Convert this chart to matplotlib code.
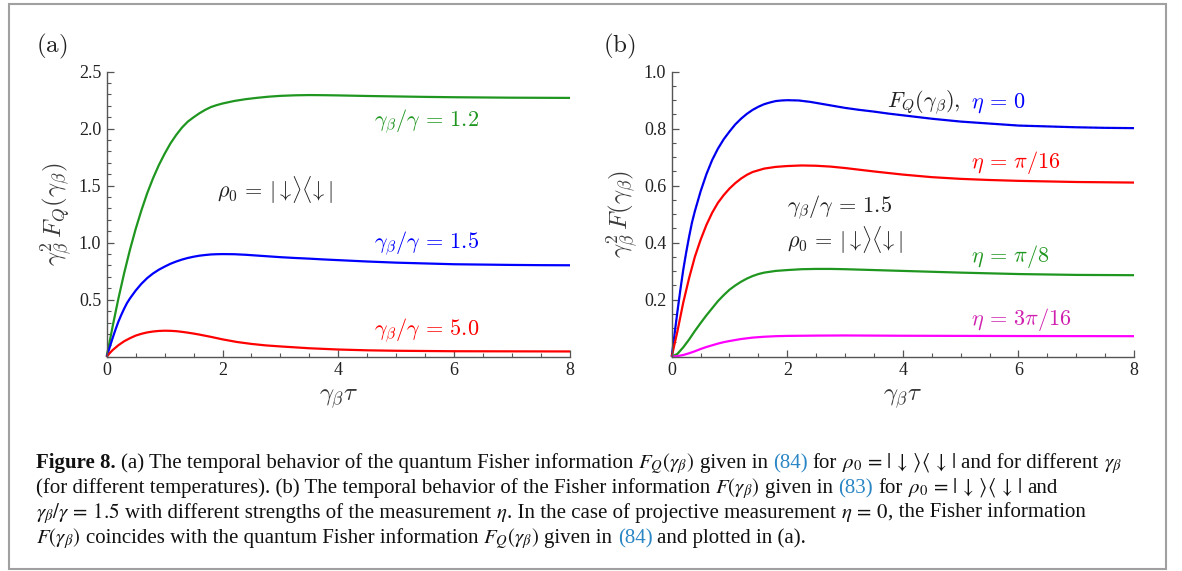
import matplotlib
matplotlib.use("Agg")
import matplotlib.pyplot as plt
from matplotlib.ticker import MultipleLocator, FixedLocator, FixedFormatter
from matplotlib.patches import Rectangle

# ---------------- data ----------------
# panel (a): gamma_beta^2 F_Q vs gamma_beta*tau
t_g12 = [0, 0.1, 0.2, 0.3, 0.4, 0.5, 0.6, 0.7, 0.8, 0.9, 1.0, 1.1, 1.2, 1.3, 1.4, 1.5,
         1.6, 1.7, 1.8, 1.9, 2.0, 2.2, 2.4, 2.6, 2.8, 3.0, 3.25, 3.5, 3.75, 4.0, 4.5,
         5.0, 5.5, 6.0, 6.5, 7.0, 7.5, 8.0]
F_g12 = [0, 0.26, 0.505, 0.73, 0.935, 1.12, 1.285, 1.435, 1.565, 1.68, 1.78, 1.87,
         1.945, 2.01, 2.062, 2.10, 2.135, 2.165, 2.19, 2.207, 2.221, 2.243, 2.259,
         2.271, 2.281, 2.288, 2.293, 2.295, 2.294, 2.292, 2.287, 2.283, 2.279, 2.276,
         2.274, 2.272, 2.271, 2.27]

t_g15 = [0, 0.025, 0.05, 0.1, 0.15, 0.2, 0.25, 0.3, 0.35, 0.4, 0.5, 0.6, 0.7, 0.8, 0.9,
         1.0, 1.1, 1.2, 1.3, 1.4, 1.5, 1.6, 1.7, 1.8, 1.9, 2.0, 2.2, 2.4, 2.6, 2.8, 3.0,
         3.25, 3.5, 3.75, 4.0, 4.5, 5.0, 5.5, 6.0, 6.5, 7.0, 7.5, 8.0]
F_g15 = [0, 0.04, 0.08, 0.16, 0.235, 0.305, 0.365, 0.42, 0.47, 0.51, 0.58, 0.64, 0.69,
         0.73, 0.763, 0.79, 0.815, 0.835, 0.852, 0.866, 0.877, 0.886, 0.892, 0.897,
         0.899, 0.90, 0.899, 0.894, 0.887, 0.88, 0.873, 0.866, 0.86, 0.853, 0.847,
         0.835, 0.825, 0.818, 0.811, 0.808, 0.805, 0.803, 0.802]

t_g50 = [0, 0.05, 0.1, 0.2, 0.3, 0.4, 0.5, 0.6, 0.7, 0.8, 0.9, 1.0, 1.1, 1.2, 1.3, 1.4,
         1.5, 1.6, 1.8, 2.0, 2.25, 2.5, 2.75, 3.0, 3.5, 4.0, 4.5, 5.0, 6.0, 7.0, 8.0]
F_g50 = [0, 0.03, 0.057, 0.10, 0.135, 0.162, 0.185, 0.201, 0.213, 0.221, 0.226, 0.228,
         0.227, 0.224, 0.218, 0.211, 0.203, 0.194, 0.174, 0.152, 0.129, 0.112, 0.099,
         0.09, 0.074, 0.063, 0.056, 0.052, 0.048, 0.047, 0.046]

# panel (b): gamma_beta^2 F vs gamma_beta*tau, gamma_beta/gamma = 1.5
t_eta0 = t_g15
F_eta0 = F_g15

t_eta16 = [0, 0.05, 0.1, 0.15, 0.2, 0.3, 0.4, 0.5, 0.6, 0.7, 0.8, 0.9, 1.0, 1.1, 1.2,
           1.3, 1.4, 1.6, 1.8, 2.0, 2.25, 2.5, 2.75, 3.0, 3.5, 4.0, 4.5, 5.0, 5.5, 6.0,
           7.0, 8.0]
F_eta16 = [0, 0.045, 0.09, 0.14, 0.19, 0.275, 0.35, 0.41, 0.462, 0.505, 0.54, 0.567,
           0.59, 0.609, 0.625, 0.638, 0.648, 0.66, 0.666, 0.669, 0.671, 0.67, 0.667,
           0.662, 0.65, 0.639, 0.63, 0.624, 0.62, 0.617, 0.613, 0.611]

t_eta8 = [0, 0.1, 0.2, 0.3, 0.4, 0.5, 0.6, 0.7, 0.8, 0.9, 1.0, 1.1, 1.2, 1.3, 1.4, 1.5,
          1.6, 1.8, 2.0, 2.25, 2.5, 2.75, 3.0, 3.5, 4.0, 4.5, 5.0, 6.0, 7.0, 8.0]
F_eta8 = [0, 0.01, 0.033, 0.06, 0.09, 0.118, 0.145, 0.17, 0.195, 0.216, 0.235, 0.25,
          0.263, 0.274, 0.283, 0.29, 0.295, 0.301, 0.304, 0.307, 0.308, 0.308, 0.307,
          0.304, 0.301, 0.298, 0.295, 0.29, 0.287, 0.286]

t_eta316 = [0, 0.1, 0.2, 0.3, 0.4, 0.5, 0.6, 0.7, 0.8, 0.9, 1.0, 1.2, 1.4, 1.6, 1.8,
            2.0, 2.5, 3.0, 4.0, 5.0, 6.0, 8.0]
F_eta316 = [0, 0.002, 0.006, 0.012, 0.019, 0.027, 0.034, 0.04, 0.046, 0.051, 0.055,
            0.062, 0.067, 0.070, 0.072, 0.073, 0.074, 0.0745, 0.0735, 0.073, 0.0725,
            0.072]

xticks = [0, 2, 4, 6, 8]
xticklabels = ["0", "2", "4", "6", "8"]
yticks_a = [0.5, 1.0, 1.5, 2.0, 2.5]
yticklabels_a = ["0.5", "1.0", "1.5", "2.0", "2.5"]
yticks_b = [0.2, 0.4, 0.6, 0.8, 1.0]
yticklabels_b = ["0.2", "0.4", "0.6", "0.8", "1.0"]

# ---------------- figure ----------------
W, H = 1182, 571
fig = plt.figure(figsize=(W / 100, H / 100), dpi=100)
fig.patch.set_facecolor("white")

GREEN = "#1f961f"
BLUE = "#0000ff"
RED = "#ff0000"
MAG = "#ff00ff"
AXC = "#555555"
TXT = "#222222"
SERIF = "Liberation Serif"

def px_axes(l, r, b, t):
    return fig.add_axes([l / W, (H - b) / H, (r - l) / W, (b - t) / H])

ax_a = px_axes(106.7, 570.0, 356.7, 71.7)
ax_b = px_axes(671.7, 1134.0, 356.7, 71.7)

def style(ax, ymax, yt, ytl, yminor):
    ax.set_xlim(0, 8)
    ax.set_ylim(0, ymax)
    for s in ("top", "right"):
        ax.spines[s].set_visible(False)
    for s in ("left", "bottom"):
        ax.spines[s].set_color(AXC)
        ax.spines[s].set_linewidth(1.0)
    ax.xaxis.set_major_locator(FixedLocator(xticks))
    ax.xaxis.set_major_formatter(FixedFormatter(xticklabels))
    ax.yaxis.set_major_locator(FixedLocator(yt))
    ax.yaxis.set_major_formatter(FixedFormatter(ytl))
    ax.xaxis.set_minor_locator(MultipleLocator(0.5))
    ax.yaxis.set_minor_locator(MultipleLocator(yminor))
    ax.tick_params(which="major", direction="in", length=5, width=0.9, color=AXC,
                   labelsize=13, labelcolor=TXT, pad=4)
    ax.tick_params(which="minor", direction="in", length=3, width=0.8, color=AXC)
    for lab in ax.get_xticklabels() + ax.get_yticklabels():
        lab.set_fontfamily(SERIF)
    ax.set_facecolor("none")

style(ax_a, 2.5, yticks_a, yticklabels_a, 0.1)
style(ax_b, 1.0, yticks_b, yticklabels_b, 0.05)

LW = 1.6
kw = dict(lw=LW, clip_on=False, solid_joinstyle="round", solid_capstyle="butt")
ax_a.plot(t_g12, F_g12, color=GREEN, **kw)
ax_a.plot(t_g15, F_g15, color=BLUE, **kw)
ax_a.plot(t_g50, F_g50, color=RED, **kw)

ax_b.plot(t_eta0, F_eta0, color=BLUE, **kw)
ax_b.plot(t_eta0, F_eta0, color="#000088", lw=0.7, ls=(0, (3, 3)), alpha=0.5, clip_on=False)
ax_b.plot(t_eta16, F_eta16, color=RED, **kw)
ax_b.plot(t_eta8, F_eta8, color=GREEN, **kw)
ax_b.plot(t_eta316, F_eta316, color=MAG, **kw)

MF = "cm"
LS = 16
rho_plot = r"$\rho_0\,=\,|{\downarrow}\!\rangle\langle\!{\downarrow}|$"
ax_a.text(4.61, 2.02, r"$\gamma_\beta/\gamma\,=\,1.2$", color=GREEN, fontsize=LS,
          math_fontfamily=MF, ha="left", va="baseline")
ax_a.text(4.61, 0.953, r"$\gamma_\beta/\gamma\,=\,1.5$", color=BLUE, fontsize=LS,
          math_fontfamily=MF, ha="left", va="baseline")
ax_a.text(4.61, 0.19, r"$\gamma_\beta/\gamma\,=\,5.0$", color=RED, fontsize=LS,
          math_fontfamily=MF, ha="left", va="baseline")
ax_a.text(1.90, 1.46, rho_plot, color=TXT, fontsize=LS, math_fontfamily=MF,
          ha="left", va="center")

ax_b.text(3.73, 0.873, r"$F_Q(\gamma_\beta),$", color=TXT, fontsize=LS,
          math_fontfamily=MF, ha="left", va="baseline")
ax_b.text(5.18, 0.873, r"$\eta\,=\,0$", color=BLUE, fontsize=LS,
          math_fontfamily=MF, ha="left", va="baseline")
ax_b.text(5.18, 0.663, r"$\eta\,=\,\pi/16$", color=RED, fontsize=LS,
          math_fontfamily=MF, ha="left", va="baseline")
ax_b.text(1.99, 0.507, r"$\gamma_\beta/\gamma\,=\,1.5$", color=TXT, fontsize=LS,
          math_fontfamily=MF, ha="left", va="baseline")
ax_b.text(1.99, 0.409, rho_plot, color=TXT, fontsize=LS, math_fontfamily=MF,
          ha="left", va="center")
ax_b.text(5.18, 0.332, r"$\eta\,=\,\pi/8$", color=GREEN, fontsize=LS,
          math_fontfamily=MF, ha="left", va="baseline")
ax_b.text(5.18, 0.111, r"$\eta\,=\,3\pi/16$", color="#d020b0", fontsize=LS,
          math_fontfamily=MF, ha="left", va="baseline")

AL = 18
for ax, lab in ((ax_a, r"$\gamma_\beta^2\,F_Q(\gamma_\beta)$"),
                (ax_b, r"$\gamma_\beta^2\,F(\gamma_\beta)$")):
    ax.set_xlabel(r"$\gamma_\beta\tau$", fontsize=AL, color="#3a3a3a",
                  math_fontfamily=MF, labelpad=5)
    ax.set_ylabel(lab, fontsize=AL, color="#3a3a3a", math_fontfamily=MF, labelpad=3)

fig.text(36 / W, (H - 46) / H, r"$\mathrm{(a)}$", fontsize=18, math_fontfamily=MF,
         color=TXT, ha="left", va="center")
fig.text(603 / W, (H - 46) / H, r"$\mathrm{(b)}$", fontsize=18, math_fontfamily=MF,
         color=TXT, ha="left", va="center")

# frame
fig.patches.append(Rectangle((9.3 / W, (H - 569) / H), (1165.7 - 9.3) / W, (569 - 4) / H,
                             transform=fig.transFigure, fill=False, edgecolor="#a0a0a0",
                             lw=1.5))

# ---------------- caption ----------------
CS = 15.0
REF = "#2a86c4"
CTX = "#111111"
rho = r"$\rho_0\,=\,|\,{\downarrow}\,\rangle\langle\,{\downarrow}\,|$"
caption_lines = [
    [("Figure 8.", "bold", CTX), (" (a) The temporal behavior of the quantum Fisher information ", "normal", CTX),
     (r"$F_Q(\gamma_\beta)$", "normal", CTX), (" given in ", "normal", CTX), ("(84)", "normal", REF),
     (" for ", "normal", CTX), (rho, "normal", CTX), (" and for different ", "normal", CTX),
     (r"$\gamma_\beta$", "normal", CTX)],
    [("(for different temperatures). (b) The temporal behavior of the Fisher information ", "normal", CTX),
     (r"$F(\gamma_\beta)$", "normal", CTX), (" given in ", "normal", CTX), ("(83)", "normal", REF),
     (" for ", "normal", CTX), (rho, "normal", CTX), (" and", "normal", CTX)],
    [(r"$\gamma_\beta/\gamma\,=\,1.5$", "normal", CTX),
     (" with different strengths of the measurement ", "normal", CTX), (r"$\eta$", "normal", CTX),
     (". In the case of projective measurement ", "normal", CTX), (r"$\eta\,=\,0$", "normal", CTX),
     (", the Fisher information", "normal", CTX)],
    [(r"$F(\gamma_\beta)$", "normal", CTX), (" coincides with the quantum Fisher information ", "normal", CTX),
     (r"$F_Q(\gamma_\beta)$", "normal", CTX), (" given in ", "normal", CTX), ("(84)", "normal", REF),
     (" and plotted in (a).", "normal", CTX)],
]
baselines = [468, 493, 518, 543]

renderer = fig.canvas.get_renderer()
for segs, base in zip(caption_lines, baselines):
    x = 36.0
    for s, wgt, col in segs:
        lead = len(s) - len(s.lstrip(" "))
        trail = len(s) - len(s.rstrip(" "))
        core = s.strip(" ")
        sp = CS * 0.25 * 100 / 72
        x += lead * sp
        tt = fig.text(x / W, (H - base) / H, core, fontsize=CS, fontfamily=SERIF,
                      fontweight=wgt, color=col, ha="left", va="baseline",
                      math_fontfamily="stix")
        bb = tt.get_window_extent(renderer)
        x += bb.width + trail * sp

fig.savefig("out.png", dpi=100, facecolor="white")
